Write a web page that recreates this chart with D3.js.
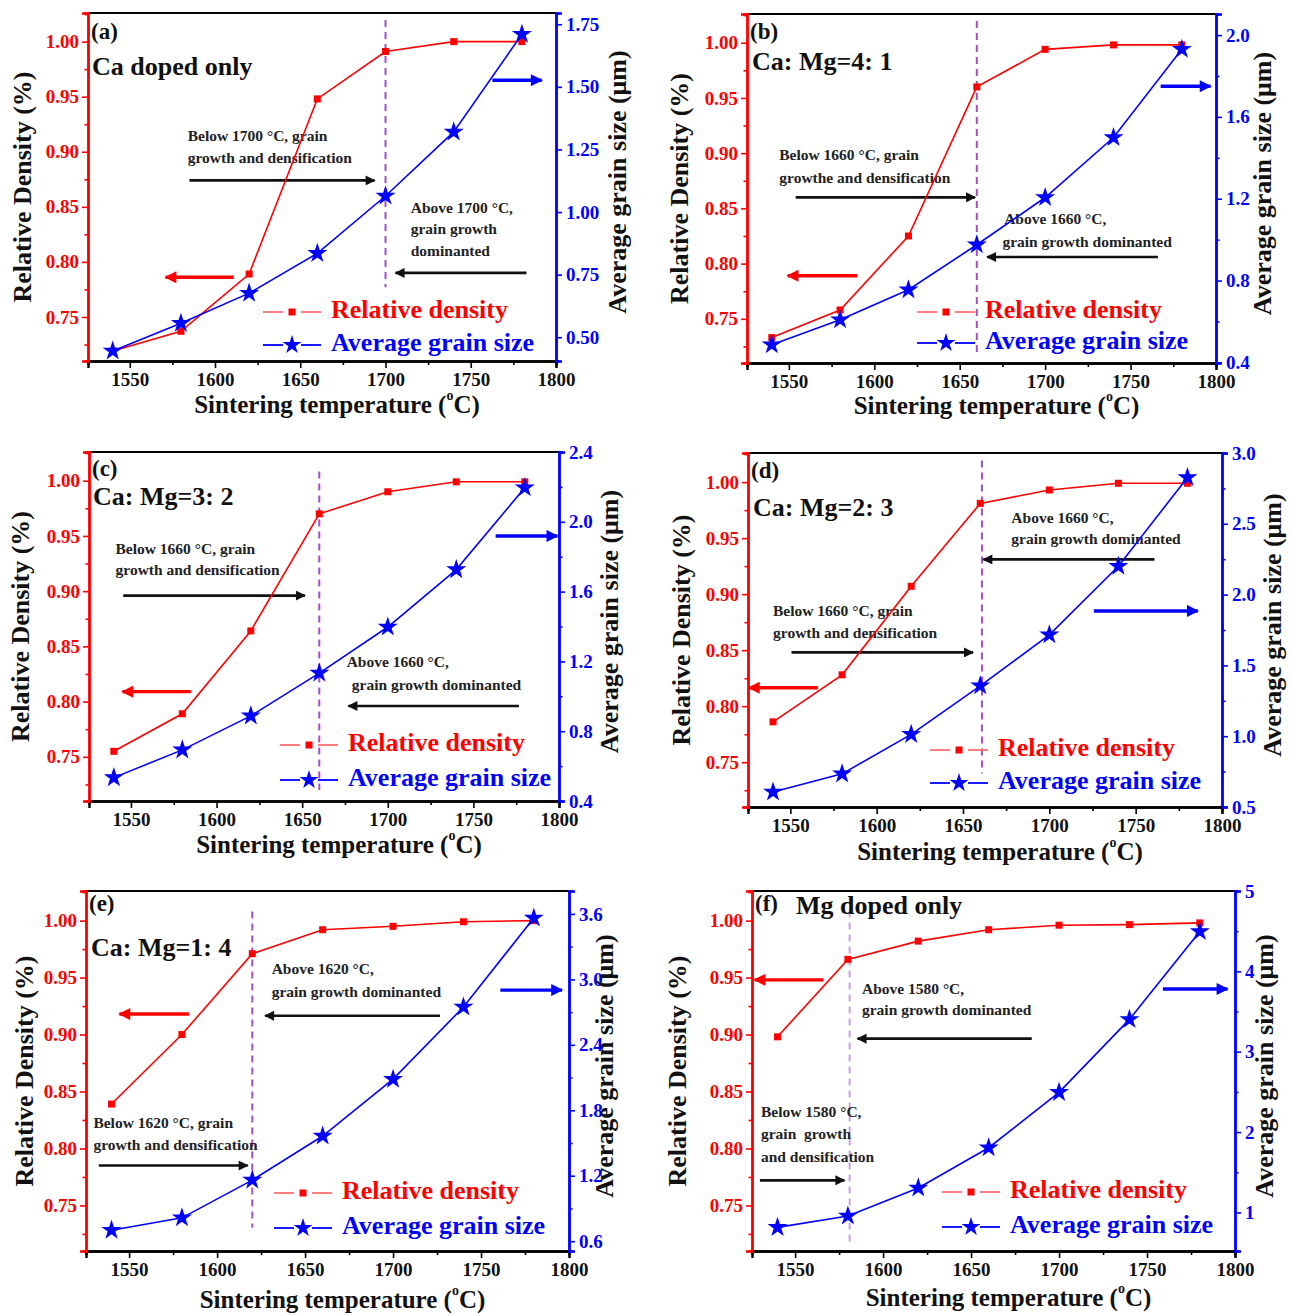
<!DOCTYPE html>
<html><head><meta charset="utf-8">
<script src="https://cdn.jsdelivr.net/npm/d3@7"></script>
<style>
body{margin:0;background:#fff;}
svg{display:block;}
text{font-family:"Liberation Serif","Times New Roman",serif;font-weight:bold;}
</style></head>
<body>
<svg id="c" width="1293" height="1316"></svg>
<script>
// ---------------- data ----------------
const temps = [1540, 1580, 1620, 1660, 1700, 1740, 1780];
const xTicks = [1550, 1600, 1650, 1700, 1750, 1800];
const xMinor = [1575, 1625, 1675, 1725, 1775];
const densityTicks = [0.75, 0.80, 0.85, 0.90, 0.95, 1.00];
const densityMinor = [0.725, 0.775, 0.825, 0.875, 0.925, 0.975, 1.025];

const densityA = [0.719, 0.737, 0.789, 0.948, 0.991, 1.000, 1.000];
const grainA   = [0.445, 0.556, 0.676, 0.835, 1.064, 1.320, 1.710];
const densityB = [0.733, 0.758, 0.825, 0.960, 0.994, 0.998, 0.998];
const grainB   = [0.486, 0.608, 0.755, 0.975, 1.206, 1.499, 1.931];
const densityC = [0.755, 0.789, 0.864, 0.970, 0.990, 0.999, 0.999];
const grainC   = [0.534, 0.693, 0.888, 1.133, 1.397, 1.726, 2.195];
const densityD = [0.786, 0.828, 0.907, 0.981, 0.993, 0.999, 0.999];
const grainD   = [0.606, 0.734, 1.013, 1.356, 1.716, 2.200, 2.827];
const densityE = [0.839, 0.900, 0.971, 0.992, 0.995, 0.999, 1.000];
const grainE   = [0.701, 0.814, 1.160, 1.564, 2.085, 2.746, 3.563];
const densityF = [0.898, 0.966, 0.982, 0.992, 0.996, 0.9965, 0.998];
const grainF   = [0.814, 0.955, 1.305, 1.805, 2.494, 3.402, 4.496];

const grainTicksA = [0.50, 0.75, 1.00, 1.25, 1.50, 1.75];
const grainTicksB = [0.4, 0.8, 1.2, 1.6, 2.0];
const grainTicksC = [0.4, 0.8, 1.2, 1.6, 2.0, 2.4];
const grainTicksD = [0.5, 1.0, 1.5, 2.0, 2.5, 3.0];
const grainTicksE = [0.6, 1.2, 1.8, 2.4, 3.0, 3.6];
const grainTicksF = [1, 2, 3, 4, 5];

const panelLabels = ["(a)", "(b)", "(c)", "(d)", "(e)", "(f)"];
const panelTitles = ["Ca doped only", "Ca: Mg=4: 1", "Ca: Mg=3: 2", "Ca: Mg=2: 3", "Ca: Mg=1: 4", "Mg doped only"];
const legendLabels = ["Relative density", "Average grain size"];

// ---------------- panel configuration ----------------
const panels = [
 {density: densityA, grain: grainA, gTicks: grainTicksA, gStep: 0.25, gDom: [0.405, 1.795], fmt: ".2f",
  box: {L: 88, R: 556, T: 13, B: 361}, leftT: 63, rightT: 64, xT: 46, lab: [3, 21], title: [4, 56], leg: [-225, -49, -16],
  vline: {t: 1700, v0: 1.0197, v1: 0.777, c: "#a64fc4"},
  texts: [[1584, 0.913, "Below 1700 °C, grain"], [1584, 0.893, "growth and densification"],
          [1714.8, 0.8476, "Above 1700 °C,"], [1714.8, 0.829, "grain growth"], [1714.8, 0.809, "dominanted"]],
  arrows: [["red", 1611, 1571, 0.786], ["blue", 1762.7, 1791.6, 0.965], ["black", 1585, 1693.6, 0.874], ["black", 1782.7, 1705.9, 0.790]]},
 {density: densityB, grain: grainB, gTicks: grainTicksB, gStep: 0.2, gDom: [0.397, 2.103], fmt: ".1f",
  box: {L: 747, R: 1216, T: 14, B: 363}, leftT: 65, rightT: 49, xT: 45, lab: [3, 20], title: [5, 50], leg: [-231, -51, -20],
  vline: {t: 1660, v0: 1.0197, v1: 0.718, c: "#a64fc4"},
  texts: [[1544.4, 0.897, "Below 1660 °C, grain"], [1544.4, 0.876, "growthe and densification"],
          [1676, 0.839, "Above 1660 °C,"], [1675, 0.818, "grain growth dominanted"]],
  arrows: [["red", 1590, 1549.3, 0.789], ["blue", 1767.6, 1796.8, 0.9606], ["black", 1554, 1659, 0.860], ["black", 1766, 1666, 0.806]]},
 {density: densityC, grain: grainC, gTicks: grainTicksC, gStep: 0.2, gDom: [0.4, 2.4], fmt: ".1f",
  box: {L: 89, R: 559, T: 452, B: 801}, leftT: 66, rightT: 53, xT: 46, lab: [3, 19], title: [4, 47], leg: [-211, -56, -21],
  vline: {t: 1660, v0: 1.0084, v1: 0.720, c: "#a64fc4"},
  texts: [[1541, 0.937, "Below 1660 °C, grain"], [1541, 0.918, "growth and densification"],
          [1676, 0.835, "Above 1660 °C,"], [1679, 0.814, "grain growth dominanted"]],
  arrows: [["red", 1585, 1545, 0.809], ["blue", 1763, 1799, 0.950], ["black", 1545.5, 1651.6, 0.896], ["black", 1776.6, 1677, 0.796]]},
 {density: densityD, grain: grainD, gTicks: grainTicksD, gStep: 0.25, gDom: [0.5, 3.0], fmt: ".1f",
  box: {L: 748, R: 1222, T: 453, B: 807}, leftT: 64, rightT: 53, xT: 47, lab: [3, 20], title: [5, 57], leg: [-224, -57, -24],
  vline: {t: 1661, v0: 1.0194, v1: 0.740, c: "#a64fc4"},
  texts: [[1678, 0.967, "Above 1660 °C,"], [1678, 0.948, "grain growth dominanted"],
          [1540, 0.884, "Below 1660 °C, grain"], [1540, 0.864, "growth and densification"]],
  arrows: [["red", 1566, 1526, 0.8165], ["blue", 1725.8, 1786, 0.885], ["black", 1550.7, 1655.8, 0.848], ["black", 1760.9, 1661.8, 0.931]]},
 {density: densityE, grain: grainE, gTicks: grainTicksE, gStep: 0.3, gDom: [0.51, 3.81], fmt: ".1f",
  box: {L: 86, R: 569, T: 891, B: 1251}, leftT: 59, rightT: 38, xT: 51, lab: [3, 15], title: [5, 59], leg: [-227, -58, -23],
  vline: {t: 1620, v0: 1.0079, v1: 0.7304, c: "#a64fc4"},
  texts: [[1631, 0.956, "Above 1620 °C,"], [1631, 0.936, "grain growth dominanted"],
          [1529.7, 0.821, "Below 1620 °C, grain"], [1529.7, 0.802, "growth and densification"]],
  arrows: [["red", 1584, 1544.5, 0.918], ["blue", 1761, 1796, 0.939], ["black", 1726.7, 1627.3, 0.9165], ["black", 1532.8, 1617.4, 0.785]]},
 {density: densityF, grain: grainF, gTicks: grainTicksF, gStep: 0.5, gDom: [0.52, 5.0], fmt: "d",
  box: {L: 752, R: 1235, T: 891, B: 1251}, leftT: 72, rightT: 32, xT: 49, lab: [3, 15], title: [44, 17], leg: [-225, -59, -24],
  vline: {t: 1581, v0: 1.0088, v1: 0.714, c: "#c9a3e0"},
  texts: [[1588, 0.939, "Above 1580 °C,"], [1588, 0.920, "grain growth dominanted"],
          [1530.6, 0.831, "Below 1580 °C,"], [1530.6, 0.811, "grain  growth"], [1530.6, 0.7914, "and densification"]],
  arrows: [["red", 1566, 1527, 0.948], ["blue", 1759, 1795.7, 0.940], ["black", 1684.5, 1585.5, 0.8964], ["black", 1530, 1578, 0.772]]}
];

const RED = "#ff0000", BLUE = "#0000ff";
const svg = d3.select("#c");
const defs = svg.append("defs");
[["black", "#111"], ["red", RED], ["blue", BLUE]].forEach(([id, col]) => {
  defs.append("marker").attr("id", "ah-" + id).attr("viewBox", "0 0 10 10")
    .attr("refX", 9).attr("refY", 5).attr("markerUnits", "userSpaceOnUse")
    .attr("markerWidth", id === "black" ? 13 : 14).attr("markerHeight", id === "black" ? 10 : 12)
    .attr("orient", "auto")
    .append("path").attr("d", "M0,0 L10,5 L0,10 Z").attr("fill", col);
});

function range(a, b, s) { const o = []; for (let v = a; v <= b + 1e-9; v += s) o.push(+v.toFixed(4)); return o; }

panels.forEach((p, i) => {
  const {L, R, T, B} = p.box;
  const x = d3.scaleLinear([1525.5, 1800], [L, R]);
  const yL = d3.scaleLinear([0.71, 1.026], [B, T]);
  const yR = d3.scaleLinear(p.gDom, [B, T]);
  const g = svg.append("g");

  g.append("line").attr("x1", L).attr("x2", R).attr("y1", T).attr("y2", T).attr("stroke", "#000").attr("stroke-width", 2.2);

  const xa = g.append("g").attr("transform", `translate(0,${B})`)
    .call(d3.axisBottom(x).tickValues(xTicks).tickSize(7).tickPadding(5).tickFormat(d3.format("d")));
  g.append("g").attr("transform", `translate(0,${B})`)
    .call(d3.axisBottom(x).tickValues(xMinor).tickSize(4).tickFormat(""));
  g.append("g").attr("class", "la").attr("transform", `translate(${L},0)`)
    .call(d3.axisLeft(yL).tickValues(densityTicks).tickSize(6).tickPadding(3).tickFormat(d3.format(".2f")));
  g.append("g").attr("class", "la").attr("transform", `translate(${L},0)`)
    .call(d3.axisLeft(yL).tickValues(densityMinor.filter(v => v <= 1.026)).tickSize(3.5).tickFormat(""));
  const minor = range(p.gTicks[0] - p.gStep, p.gTicks[p.gTicks.length - 1] + p.gStep, p.gStep)
    .filter(v => v >= p.gDom[0] && v <= p.gDom[1] && !p.gTicks.some(t => Math.abs(t - v) < 1e-6));
  g.append("g").attr("class", "ra").attr("transform", `translate(${R},0)`)
    .call(d3.axisRight(yR).tickValues(p.gTicks).tickSize(6).tickPadding(4).tickFormat(d3.format(p.fmt)));
  g.append("g").attr("class", "ra").attr("transform", `translate(${R},0)`)
    .call(d3.axisRight(yR).tickValues(minor).tickSize(3.5).tickFormat(""));

  g.selectAll(".domain").attr("stroke-width", 2.4);
  g.selectAll(".tick line").attr("stroke-width", 1.6);
  g.selectAll(".tick text").attr("font-size", 19).attr("font-family", "Liberation Serif").attr("font-weight", "bold");
  g.selectAll(".la .domain, .la .tick line").attr("stroke", RED);
  g.selectAll(".la .tick text").attr("fill", RED);
  g.selectAll(".ra .domain, .ra .tick line").attr("stroke", BLUE);
  g.selectAll(".ra .tick text").attr("fill", BLUE);
  xa.selectAll(".tick text").attr("fill", "#111");

  g.append("text").attr("transform", `translate(${L - p.leftT},${(T + B) / 2}) rotate(-90)`)
    .attr("text-anchor", "middle").attr("dominant-baseline", "middle").attr("font-size", 26).attr("fill", "#111")
    .text("Relative Density (%)");
  g.append("text").attr("transform", `translate(${R + p.rightT},${(T + B) / 2 - 5}) rotate(-90)`)
    .attr("text-anchor", "middle").attr("dominant-baseline", "middle").attr("font-size", 26).attr("fill", "#111")
    .text("Average grain size (μm)");
  const xt = g.append("text").attr("x", (L + R) / 2 + 15).attr("y", B + p.xT).attr("text-anchor", "middle")
    .attr("dominant-baseline", "middle").attr("font-size", 25).attr("fill", "#111");
  xt.append("tspan").text("Sintering temperature (");
  xt.append("tspan").attr("font-size", 14).attr("dy", -10).text("o");
  xt.append("tspan").attr("dy", 10).text("C)");

  g.append("line").attr("x1", x(p.vline.t)).attr("x2", x(p.vline.t))
    .attr("y1", yL(p.vline.v0)).attr("y2", yL(p.vline.v1))
    .attr("stroke", p.vline.c).attr("stroke-width", 2).attr("stroke-dasharray", "7,5");

  p.texts.forEach(([t, v, s]) => {
    g.append("text").attr("x", x(t)).attr("y", yL(v)).attr("dominant-baseline", "middle")
      .attr("font-size", 15.5).attr("fill", "#222").style("white-space", "pre").text(s);
  });

  p.arrows.forEach(([c, t0, t1, v]) => {
    const col = c === "red" ? RED : c === "blue" ? BLUE : "#111";
    g.append("line").attr("x1", x(t0)).attr("x2", x(t1)).attr("y1", yL(v)).attr("y2", yL(v))
      .attr("stroke", col).attr("stroke-width", c === "black" ? 2.6 : 3.4).attr("marker-end", `url(#ah-${c})`);
  });

  const lineL = d3.line().x((d, k) => x(temps[k])).y(d => yL(d));
  const lineR = d3.line().x((d, k) => x(temps[k])).y(d => yR(d));
  g.append("path").attr("d", lineL(p.density)).attr("fill", "none").attr("stroke", RED).attr("stroke-width", 1.6);
  g.append("path").attr("d", lineR(p.grain)).attr("fill", "none").attr("stroke", BLUE).attr("stroke-width", 1.6);
  g.selectAll(".sq").data(p.density).join("rect")
    .attr("x", (d, k) => x(temps[k]) - 3.5).attr("y", d => yL(d) - 3.5).attr("width", 7).attr("height", 7).attr("fill", RED);
  const star = d3.symbol(d3.symbolStar, 125);
  g.selectAll(".st").data(p.grain).join("path")
    .attr("d", star).attr("transform", (d, k) => `translate(${x(temps[k])},${yR(d)})`).attr("fill", BLUE);

  g.append("text").attr("x", L + p.lab[0]).attr("y", T + p.lab[1]).attr("dominant-baseline", "middle")
    .attr("font-size", 23).attr("fill", "#111").text(panelLabels[i]);
  g.append("text").attr("x", L + p.title[0]).attr("y", T + p.title[1]).attr("dominant-baseline", "middle")
    .attr("font-size", 26).attr("fill", "#111").text(panelTitles[i]);

  const lx = R + p.leg[0];
  const rows = [[B + p.leg[1], "#ff7070", RED, "sq"], [B + p.leg[2], BLUE, BLUE, "st"]];
  rows.forEach(([ly, lc, tc, kind], r) => {
    g.append("line").attr("x1", lx - 68).attr("x2", lx - 48).attr("y1", ly).attr("y2", ly).attr("stroke", lc).attr("stroke-width", 1.8);
    g.append("line").attr("x1", lx - 30).attr("x2", lx - 10).attr("y1", ly).attr("y2", ly).attr("stroke", lc).attr("stroke-width", 1.8);
    if (kind === "sq") g.append("rect").attr("x", lx - 42.5).attr("y", ly - 3.5).attr("width", 7).attr("height", 7).attr("fill", RED);
    else g.append("path").attr("d", d3.symbol(d3.symbolStar, 110)).attr("transform", `translate(${lx - 39},${ly})`).attr("fill", BLUE);
    g.append("text").attr("x", lx).attr("y", ly).attr("dominant-baseline", "middle").attr("font-size", 26)
      .attr("fill", tc).text(legendLabels[r]);
  });
});
</script>
</body></html>
